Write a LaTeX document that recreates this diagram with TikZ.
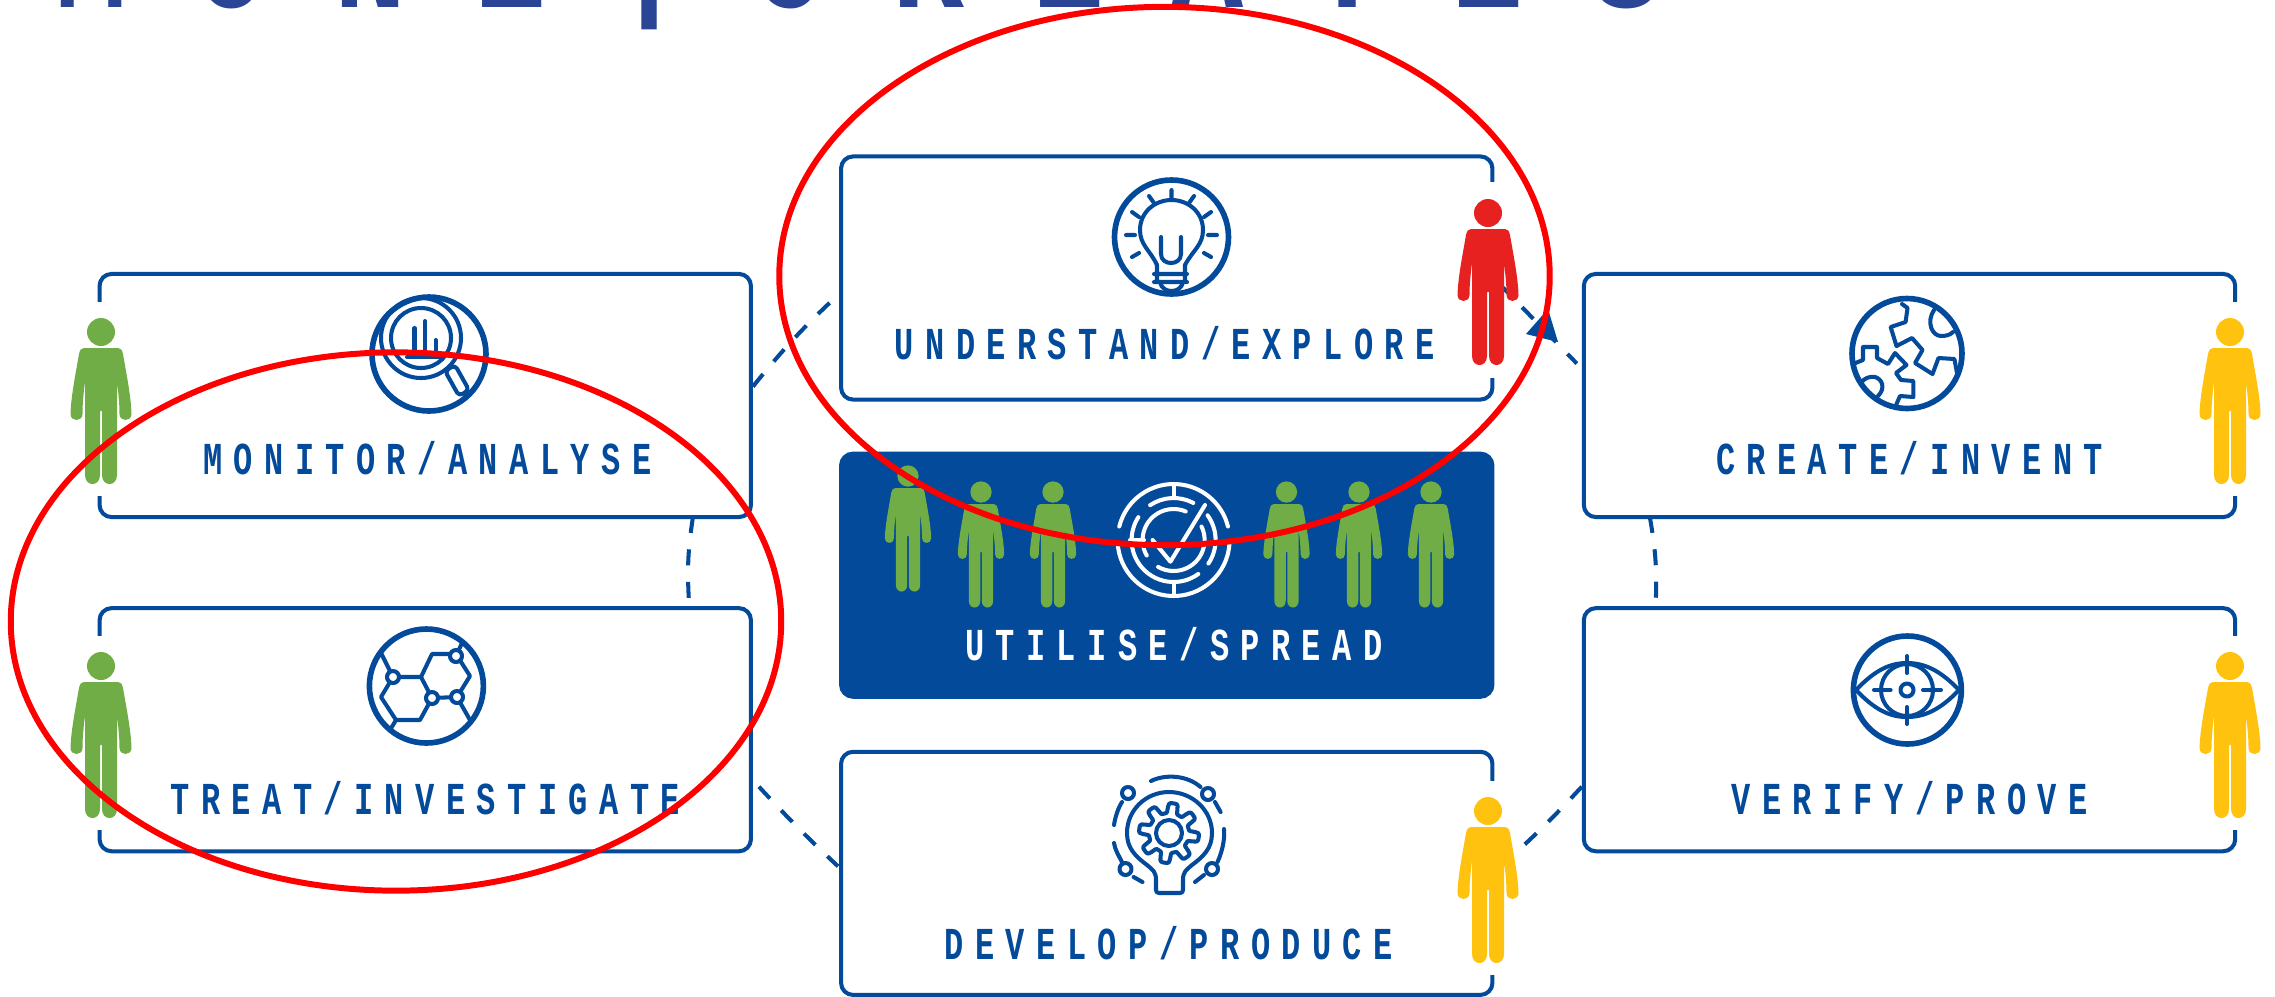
\documentclass[tikz,border=0pt]{standalone}
\usepackage{fontspec}
\usepackage{tikz}
\usetikzlibrary{shapes, positioning, calc}
\newfontfamily\capfont[FakeStretch=0.7,LetterSpace=25]{Liberation Mono}
\newfontfamily\headfont[FakeStretch=0.8,LetterSpace=45]{Liberation Mono}
\definecolor{boxblue}{HTML}{034A9A}
\definecolor{headblue}{HTML}{2A4595}
\definecolor{mangreen}{HTML}{70AD47}
\definecolor{manred}{HTML}{E6211F}
\definecolor{manyellow}{HTML}{FFC20E}
\tikzset{
	infobox/.style={rectangle, draw=boxblue, line width=1.15pt, rounded corners=0.12cm, minimum width=6.51cm, minimum height=2.43cm, outer sep=0pt, inner sep=0pt},
	boxlabel/.style={inner sep=0pt, text height=0.3cm, text depth=0pt, text=boxblue, font=\capfont\bfseries\fontsize{13}{15}\selectfont},
	flowline/.style={boxblue, line width=1.15pt, dash pattern=on 0.16cm off 0.165cm},
	iconline/.style={boxblue, line width=1.15pt, line cap=round, line join=round},
	iconring/.style={boxblue, line width=1.6pt},
	checkline/.style={white, line width=1.15pt, line cap=round, line join=round},
	focusring/.style={ellipse, draw=red, line width=1.7pt, minimum width=7.7cm, minimum height=5.38cm, inner sep=0pt},
	person/.pic={
		\path[pic actions] (0,0) circle[radius=14];
		\path[pic actions] (-17,16) -- (17,16) .. controls (20,16) and (21,18) .. (22,22) .. controls (26,45) and (30,65) .. (30.5,82) .. controls (30.5,90) and (18.5,90) .. (18.5,82) .. controls (18.5,70) and (17,58) .. (16,50) -- (16,143) .. controls (16,155) and (1,155) .. (1,143) -- (1,79) -- (-1,79) -- (-1,143) .. controls (-1,155) and (-16,155) .. (-16,143) -- (-16,50) .. controls (-17,58) and (-18.5,70) .. (-18.5,82) .. controls (-18.5,90) and (-30.5,90) .. (-30.5,82) .. controls (-30,65) and (-26,45) .. (-22,22) .. controls (-21,18) and (-20,16) .. (-17,16) -- cycle;
	}
}
\begin{document}
\begin{tikzpicture}[x=0.01cm, y=-0.01cm]
	\useasboundingbox (0,0) rectangle (2275,996);
	
	\node[anchor=base west, inner sep=0pt, text=headblue, font=\headfont\bfseries\fontsize{42.7}{46}\selectfont] (title) at (55,7) {MONE\kern0.67cm\raisebox{0.11cm}{|}\kern0.67cm CREATES};
	
	\node[infobox] (monitor) at (425.25,395.5) {};
	\node[infobox, below=0.91cm of monitor] (treat) {};
	\node[infobox] (understand) at (1166.75,278) {};
	\node[infobox, below=0.54cm of understand, fill=boxblue] (spread) {};
	\node[infobox, below=0.55cm of spread] (develop) {};
	\node[infobox] (create) at (1909.5,395.5) {};
	\node[infobox, below=0.91cm of create] (verify) {};
	
	\fill[white] ($(monitor.north west)+(-8,28)$) rectangle ($(monitor.south west)+(8,-21)$);
	\fill[white] ($(treat.north west)+(-8,28)$) rectangle ($(treat.south west)+(8,-21)$);
	\fill[white] ($(understand.north east)+(-8,26)$) rectangle ($(understand.south east)+(8,-22)$);
	\fill[white] ($(develop.north east)+(-8,29)$) rectangle ($(develop.south east)+(8,-20)$);
	\fill[white] ($(create.north east)+(-8,28)$) rectangle ($(create.south east)+(8,-21)$);
	\fill[white] ($(verify.north east)+(-8,28)$) rectangle ($(verify.south east)+(8,-21)$);
	
	\draw[flowline] ($(monitor.east)+(2,-9)$) to[bend left=4] ($(understand.west)+(-1,15)$);
	\draw[flowline] ($(monitor.south east)+(-58,0)$) to[bend right=6] ($(treat.north east)+(-62,-7)$);
	\draw[flowline] ($(treat.east)+(8,57)$) to[bend right=2] ($(develop.west)+(-3,-7)$);
	\draw[flowline] ($(verify.west)+(-2,57)$) to[bend left=3] (develop.east);
	\draw[flowline] ($(create.south west)+(66,0)$) to[bend left=6] ($(verify.north west)+(72,-7)$);
	\draw[flowline] ($(understand.east)+(7,6)$) to ($(create.west)+(-7,-32)$);
	\coordinate (tip) at (1548,309);
	\fill[boxblue] (tip) -- (1526,334) -- (1558,342) -- cycle;
	
	\pic[fill=mangreen] (monitorman) at (101,332) {person};
	\pic[fill=mangreen] (treatman) at (101,666) {person};
	\pic[fill=manred] (understandman) at (1488,213) {person};
	\pic[fill=manyellow] (developman) at (1488,811) {person};
	\pic[fill=manyellow] (createman) at (2230,332) {person};
	\pic[fill=manyellow] (verifyman) at (2230,666) {person};
	\pic[fill=mangreen, scale=0.76] (spreadman1) at (908,476) {person};
	\pic[fill=mangreen, scale=0.76] (spreadman2) at (981,492) {person};
	\pic[fill=mangreen, scale=0.76] (spreadman3) at (1053,492) {person};
	\pic[fill=mangreen, scale=0.76] (spreadman4) at (1286.5,492) {person};
	\pic[fill=mangreen, scale=0.76] (spreadman5) at (1359,492) {person};
	\pic[fill=mangreen, scale=0.76] (spreadman6) at (1431,492) {person};
	
	\node[boxlabel, above=0.42cm of monitor.south, xshift=0.02cm] (monitorlabel) {MONITOR/ANALYSE};
	\node[boxlabel, above=0.36cm of treat.south] (treatlabel) {TREAT/INVESTIGATE};
	\node[boxlabel, above=0.39cm of understand.south, xshift=-0.02cm] (understandlabel) {UNDERSTAND/EXPLORE};
	\node[boxlabel, above=0.36cm of spread.south, xshift=0.07cm, text=white] (spreadlabel) {UTILISE/SPREAD};
	\node[boxlabel, above=0.35cm of develop.south, xshift=0.02cm] (developlabel) {DEVELOP/PRODUCE};
	\node[boxlabel, above=0.42cm of create.south] (createlabel) {CREATE/INVENT};
	\node[boxlabel, above=0.36cm of verify.south] (verifylabel) {VERIFY/PROVE};
	
	\draw[iconring] (429,354) circle[radius=57];
	\draw[iconline] (421,338) circle[radius=40];
	\draw[iconline] (421,338) circle[radius=30];
	\draw[iconline] (414.5,357) -- (414.5,328) (425,357) -- (425,321) (435.6,357) -- (435.6,340) (407,357) -- (441,357);
	\draw[iconline, rounded corners=0.04cm] (455,365) -- (469,390) -- (459,396) -- (445,371) -- cycle;
	
	\draw[iconring] (1171.5,237) circle[radius=57];
	\draw[iconline] (1157,265) .. controls (1150,250) and (1140,245) .. (1140,230) .. controls (1140,212) and (1155,200) .. (1171.5,200) .. controls (1188,200) and (1203,212) .. (1203,230) .. controls (1203,245) and (1193,250) .. (1185,265);
	\draw[iconline] (1161,237) -- (1161,254) .. controls (1161,266) and (1181,266) .. (1181,254) -- (1181,237);
	\draw[iconline] (1157,265) -- (1157,282) (1185,265) -- (1185,282) (1154,274) -- (1187,274) (1154,282) -- (1187,282) (1160,282) .. controls (1162,294) and (1181,294) .. (1183,282);
	\draw[iconline] (1171.5,190) -- (1171.5,198) (1149,196) -- (1154,203) (1194,196) -- (1189,203) (1132,212) -- (1139,217) (1211,212) -- (1204,217) (1126,235) -- (1135,235) (1217,235) -- (1208,235) (1132,257) -- (1139,253) (1211,257) -- (1204,253);
	
	\draw[iconring] (426.4,686) circle[radius=57];
	\draw[iconline] (381,653) -- (393,677) -- (421,677) -- (432,698) -- (420,720) -- (396,720) -- (381,697) -- (393,677);
	\draw[iconline] (421,677) -- (432,654) -- (456,654) -- (470,676) -- (457,697) -- (432,698);
	\draw[iconline] (456,656) -- (462,643) (457,697) -- (470,720) (396,720) -- (390,730);
	\draw[iconline, fill=white] (393,677) circle[radius=6] (456,656) circle[radius=6] (432,698) circle[radius=6] (457,697) circle[radius=6];
	
	\draw[iconline] (1156,880) -- (1156,890) .. controls (1156,892) and (1157,893) .. (1159,893) -- (1180,893) .. controls (1182,893) and (1183,892) .. (1183,890) -- (1183,880) .. controls (1183,872) and (1186,870) .. (1192,865) .. controls (1204,856) and (1212,848) .. (1212,833) .. controls (1212,810) and (1192,792) .. (1169,792) .. controls (1146,792) and (1127,810) .. (1127,833) .. controls (1127,848) and (1135,856) .. (1147,865) .. controls (1153,870) and (1156,872) .. (1156,880);
	\draw[iconline] (1169,833) circle[radius=13];
	\draw[iconline] plot[domain=0:360, samples=145] ({1169+(25+5*tanh(3*sin(8*\x+22.5)))*cos(\x)},{833+(25+5*tanh(3*sin(8*\x+22.5)))*sin(\x)}) -- cycle;
	\draw[iconline] (1151,781) .. controls (1165,774) and (1187,775) .. (1200.5,787) (1215,802) -- (1220.6,812);
	\draw[iconline] (1122,802) .. controls (1118,808) and (1115,818) .. (1114,825) (1114,843) .. controls (1115,850) and (1119,856) .. (1122,862) (1133.6,877) -- (1142.5,882);
	\draw[iconline] (1224,829) .. controls (1225,840) and (1222,852) .. (1217.5,862) (1204,875) -- (1195,882);
	\draw[iconline] (1208,794) circle[radius=6] (1128,793) circle[radius=6] (1125.5,869) circle[radius=6] (1212,869) circle[radius=6];
	
	\draw[iconring] (1907,353.5) circle[radius=55];
	\draw[iconline] (1902,304) -- (1907.5,308) -- (1905.6,322) -- (1890.6,327) -- (1896.5,346) -- (1912,338) -- (1922.5,350) -- (1915,363) -- (1932.5,374) -- (1938.5,358) -- (1954.4,359) -- (1957,373);
	\draw[iconline] (1855.5,363) -- (1863,360) -- (1863,347) -- (1877,347) -- (1877,358) -- (1888,364) -- (1895,353) -- (1906.5,365) -- (1896,373) -- (1901,380) -- (1913.4,381) -- (1913.4,397) -- (1900,396) -- (1896.5,404);
	\draw[iconline] (1934,310) .. controls (1926,322) and (1932,336) .. (1941,336) .. controls (1946,336) and (1950,335) .. (1953,332);
	\draw[iconline] (1861,383) .. controls (1864,378) and (1870,376) .. (1875,377) .. controls (1882,379) and (1886,388) .. (1878,396);
	
	\draw[iconring] (1907.4,690) circle[radius=54];
	\draw[iconline] (1856,690) .. controls (1875,670) and (1890,663) .. (1907,663) .. controls (1924,663) and (1940,670) .. (1959,690) .. controls (1940,710) and (1924,717) .. (1907,717) .. controls (1890,717) and (1875,710) .. (1856,690) -- cycle;
	\draw[iconline] (1907,690) circle[radius=26] (1907,690) circle[radius=6.5];
	\draw[iconline] (1907,656) -- (1907,673) (1907,707) -- (1907,724) (1874,690) -- (1890.6,690) (1923,690) -- (1941,690);
	
	\draw[checkline] (1173.6,540) ++(194:56) arc (194:346:56);
	\draw[checkline] (1173.6,540) ++(3:56) arc (3:177:56);
	\draw[checkline] (1173.6,540) ++(236:42) arc (236:298:42);
	\draw[checkline] (1173.6,540) ++(54:42) arc (54:213:42);
	\draw[checkline] (1173.6,540) ++(324:42) arc (324:394:42);
	\draw[checkline] (1173.6,540) ++(150:31) arc (150:293:31);
	\draw[checkline] (1173.6,540) ++(-26:31) arc (-26:120:31);
	\draw[checkline] (1173.6,484) -- (1173.6,497) (1173.6,583) -- (1173.6,596) (1130,540) -- (1144,540);
	\draw[checkline] (1152.6,540) -- (1170.4,561.7) -- (1205,505);
	
	\node[focusring] (focusone) at (1164.5,276) {};
	\node[focusring] (focustwo) at (396,621.5) {};
\end{tikzpicture}
\end{document}
